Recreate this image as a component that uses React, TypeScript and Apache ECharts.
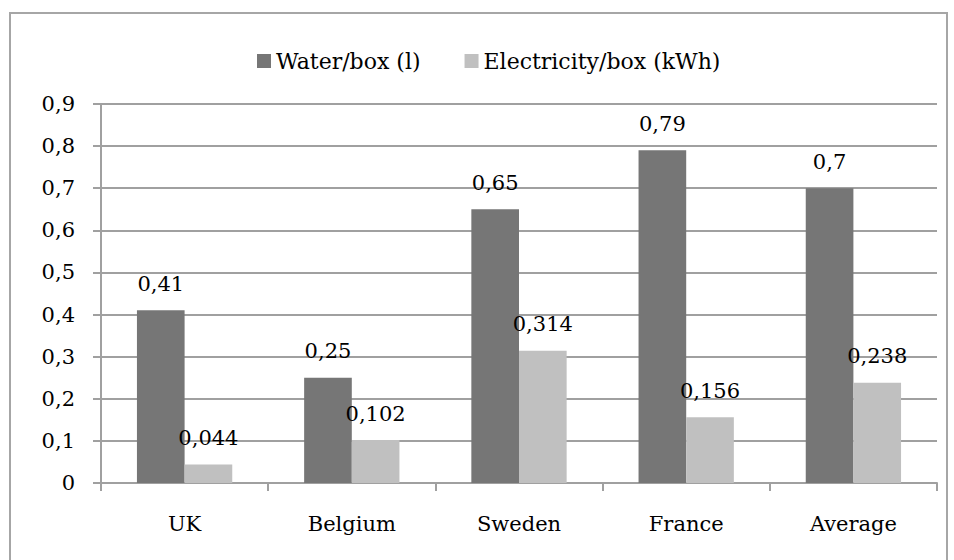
import React, { useEffect, useRef } from "react";
import * as echarts from "echarts";

const categories = ["UK", "Belgium", "Sweden", "France", "Average"];
const waterValues = [0.41, 0.25, 0.65, 0.79, 0.7];
const electricityValues = [0.044, 0.102, 0.314, 0.156, 0.238];
const seriesNames = ["Water/box (l)", "Electricity/box (kWh)"];

const FONT = "DejaVu Serif";
const comma = (v: number) => String(v).replace(".", ",");

export default function App() {
  const ref = useRef<HTMLDivElement>(null);
  useEffect(() => {
    if (!ref.current) return;
    const chart = echarts.init(ref.current, undefined, { renderer: "svg" });
    const label = {
      show: true,
      position: "top" as const,
      distance: 16,
      color: "#000",
      fontFamily: FONT,
      fontSize: 21,
      formatter: (p: any) => comma(p.value),
    };
    chart.setOption({
      animation: false,
      backgroundColor: "#fff",
      textStyle: { fontFamily: FONT },
      graphic: [
        {
          type: "rect",
          shape: { x: 10, y: 13, width: 937, height: 560 },
          style: { fill: "none", stroke: "#a6a6a6", lineWidth: 2 },
          silent: true,
        },
      ],
      legend: {
        top: 45,
        left: 252,
        itemWidth: 14,
        itemHeight: 14,
        itemGap: 44,
        icon: "rect",
        textStyle: { fontFamily: FONT, fontSize: 22, color: "#000" },
        data: seriesNames,
      },
      grid: { left: 101, right: 17, top: 104, bottom: 77, containLabel: false },
      xAxis: {
        type: "category",
        data: categories,
        axisLine: { lineStyle: { color: "#a0a0a0", width: 2 } },
        axisTick: { show: true, length: 8, interval: 0, lineStyle: { color: "#a0a0a0", width: 2 } },
        axisLabel: { color: "#000", fontFamily: FONT, fontSize: 21, margin: 30 },
      },
      yAxis: {
        type: "value",
        min: 0,
        max: 0.9,
        interval: 0.1,
        axisLine: { show: true, lineStyle: { color: "#a0a0a0", width: 2 } },
        axisTick: { show: true, length: 8, lineStyle: { color: "#a0a0a0", width: 2 } },
        splitLine: { lineStyle: { color: "#a0a0a0", width: 2 } },
        axisLabel: {
          color: "#000",
          fontFamily: FONT,
          fontSize: 21,
          margin: 26,
          formatter: (v: number) => comma(Math.round(v * 10) / 10),
        },
      },
      series: [
        {
          name: seriesNames[0],
          type: "bar",
          data: waterValues,
          itemStyle: { color: "#767676" },
          barGap: "0%",
          barCategoryGap: "43%",
          label,
        },
        {
          name: seriesNames[1],
          type: "bar",
          data: electricityValues,
          itemStyle: { color: "#c0c0c0" },
          label,
        },
      ],
    });
    return () => chart.dispose();
  }, []);
  return (
    <div
      ref={ref}
      style={{ position: "fixed", left: 0, top: 0, width: 954, height: 560 }}
    />
  );
}
